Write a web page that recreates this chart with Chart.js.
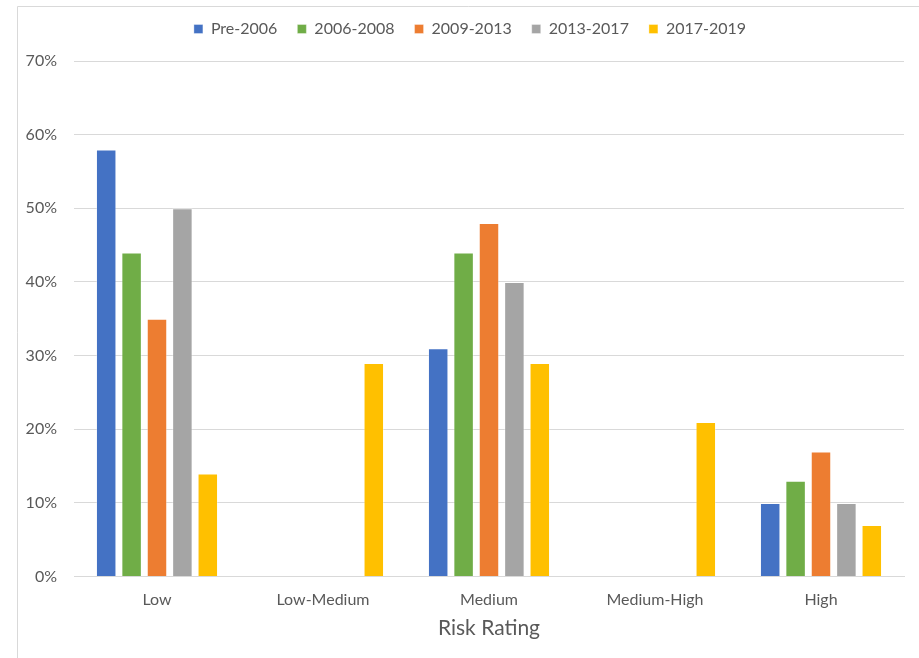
<!DOCTYPE html>
<html>
<head>
<meta charset="utf-8">
<script src="https://cdn.jsdelivr.net/npm/chart.js@4"></script>
<style>
  html, body { margin: 0; padding: 0; background: #ffffff; }
  #wrap { position: relative; width: 919px; height: 658px; }
</style>
</head>
<body>
<div id="wrap"><canvas id="chart" width="919" height="658"></canvas></div>
<script>
// Risk rating distribution by period (percent of cases)
const categories = ['Low', 'Low-Medium', 'Medium', 'Medium-High', 'High'];
const seriesNames = ['Pre-2006', '2006-2008', '2009-2013', '2013-2017', '2017-2019'];
const pre2006   = [58, null, 31, null, 10];
const y2006_08  = [44, null, 44, null, 13];
const y2009_13  = [35, null, 48, null, 17];
const y2013_17  = [50, null, 40, null, 10];
const y2017_19  = [14, 29, 29, 21, 7];
const yMin = 0, yMax = 70, yStep = 10;
const colors    = ['#4472C4', '#70AD47', '#ED7D31', '#A5A5A5', '#FFC000'];

const seriesValues = [pre2006, y2006_08, y2009_13, y2013_17, y2017_19];

const FONT = 'Lato, "Open Sans", sans-serif';
const TEXT = '#595959';
const GRID = '#d9d9d9';

// Outer frame of the chart object
const framePlugin = {
  id: 'frame',
  beforeDraw(chart) {
    const ctx = chart.ctx;
    ctx.save();
    ctx.fillStyle = '#ffffff';
    ctx.fillRect(0, 0, chart.width, chart.height);
    ctx.strokeStyle = GRID;
    ctx.lineWidth = 1;
    ctx.beginPath();
    ctx.moveTo(17.5, chart.height + 2);
    ctx.lineTo(17.5, 6.5);
    ctx.lineTo(chart.width + 2, 6.5);
    ctx.stroke();
    ctx.restore();
  }
};

// Extra room below the legend, and a small horizontal nudge of the legend row
const legendTweak = {
  id: 'legendTweak',
  beforeInit(chart) {
    const lg = chart.legend;
    if (!lg) return;
    const origFit = lg.fit;
    lg.fit = function () {
      origFit.call(this);
      this.height += 14;
    };
    const origDraw = lg.draw;
    lg.draw = function () {
      const ctx = this.ctx;
      ctx.save();
      ctx.translate(11, 0);
      origDraw.call(this);
      ctx.restore();
    };
  }
};

new Chart(document.getElementById('chart'), {
  type: 'bar',
  data: {
    labels: categories,
    datasets: seriesNames.map((name, i) => ({
      label: name,
      data: seriesValues[i],
      backgroundColor: colors[i],
      borderColor: 'rgba(255,255,255,0.35)',
      borderWidth: 1,
      categoryPercentage: 0.765,
      barPercentage: 0.807
    }))
  },
  options: {
    responsive: false,
    animation: false,
    devicePixelRatio: 1,
    layout: { padding: { left: 14, right: 15, top: 1, bottom: 13 } },
    plugins: {
      tooltip: { enabled: false },
      legend: {
        position: 'top',
        align: 'center',
        labels: {
          boxWidth: 9,
          boxHeight: 9,
          padding: 20,
          color: TEXT,
          font: { family: FONT, size: 16 }
        }
      }
    },
    scales: {
      x: {
        grid: { display: false, drawTicks: false },
        border: { display: true, color: GRID, width: 1 },
        ticks: {
          color: TEXT,
          padding: 14,
          font: { family: FONT, size: 16 }
        },
        title: {
          display: true,
          text: 'Risk Rating',
          color: TEXT,
          font: { family: FONT, size: 21 },
          padding: { top: -8, bottom: 4 }
        }
      },
      y: {
        min: yMin,
        max: yMax,
        afterFit(scale) { scale.width = 60; },
        grid: { color: GRID, lineWidth: 1, drawTicks: false },
        border: { display: false },
        ticks: {
          stepSize: yStep,
          color: TEXT,
          padding: 17,
          font: { family: FONT, size: 16 },
          callback: v => v + '%'
        }
      }
    }
  },
  plugins: [framePlugin, legendTweak]
});
</script>
</body>
</html>
